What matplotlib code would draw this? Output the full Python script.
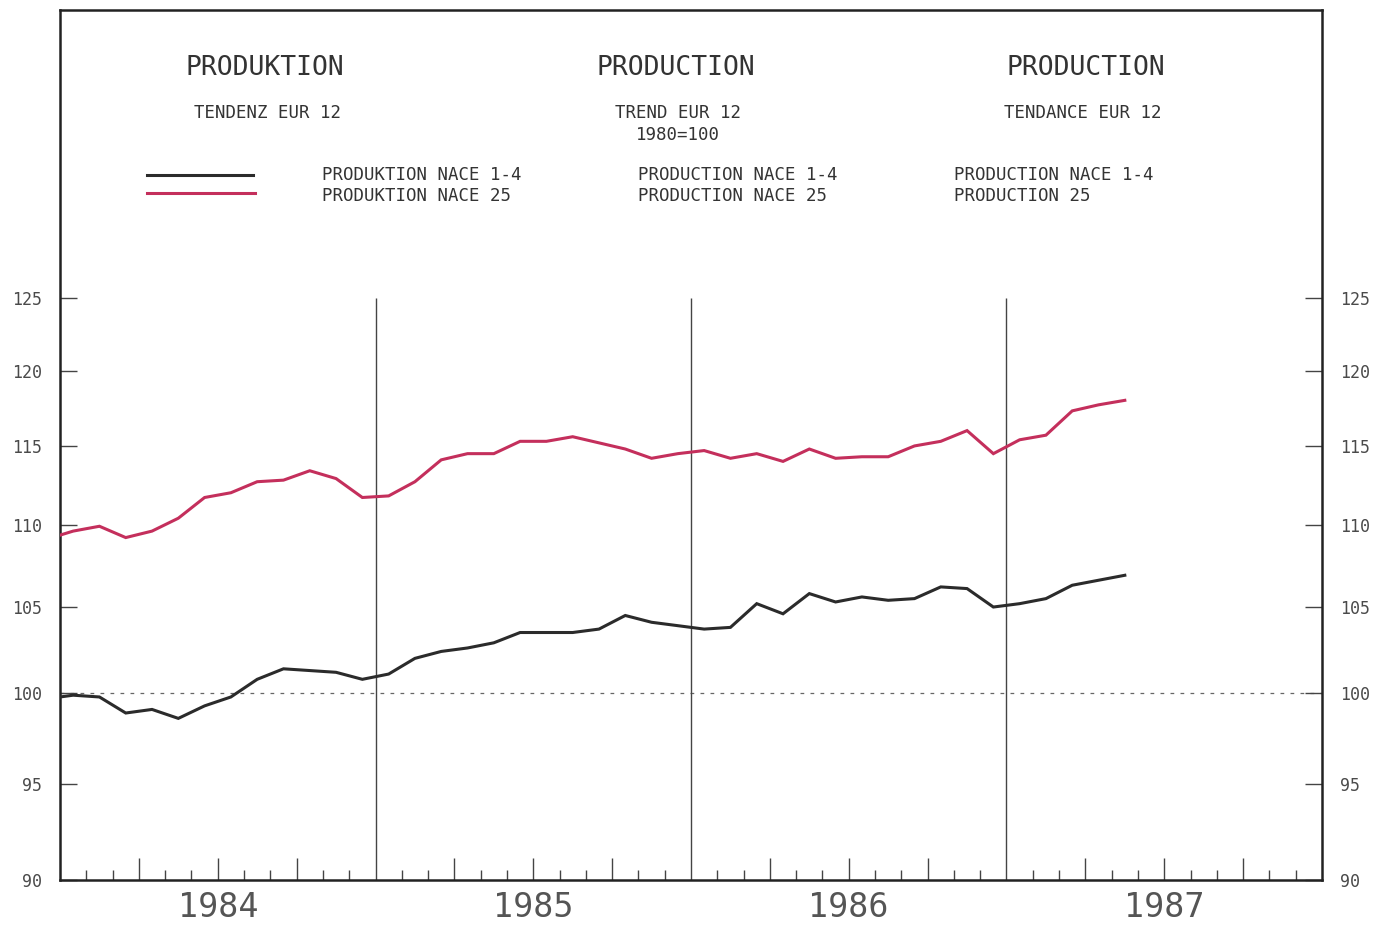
import numpy as np
import matplotlib
matplotlib.use("Agg")
from matplotlib import pyplot as plt
from matplotlib.ticker import FixedLocator, NullLocator, FixedFormatter

# monthly index, 0 = Jan 1984 (first value is Dec 1983, clipped at the axis)
month_index = np.arange(-1, 41)

nace_1_4 = [99.7, 99.9, 99.8, 98.9, 99.1, 98.6, 99.3, 99.8, 100.8, 101.4, 101.3, 101.2,
            100.8, 101.1, 102.0, 102.4, 102.6, 102.9, 103.5, 103.5, 103.5, 103.7, 104.5,
            104.1, 103.9, 103.7, 103.8, 105.2, 104.6, 105.8, 105.3, 105.6, 105.4, 105.5,
            106.2, 106.1, 105.0, 105.2, 105.5, 106.3, 106.6, 106.9]
nace_25 = [109.1, 109.6, 109.9, 109.2, 109.6, 110.4, 111.7, 112.0, 112.7, 112.8, 113.4, 112.9,
           111.7, 111.8, 112.7, 114.1, 114.5, 114.5, 115.3, 115.3, 115.6, 115.2, 114.8,
           114.2, 114.5, 114.7, 114.2, 114.5, 114.0, 114.8, 114.2, 114.3, 114.3, 115.0,
           115.3, 116.0, 114.5, 115.4, 115.7, 117.3, 117.7, 118.0]

years = ["1984", "1985", "1986", "1987"]
y_ticks = [90, 95, 100, 105, 110, 115, 120, 125]

titles = ["PRODUKTION", "PRODUCTION", "PRODUCTION"]
subtitles = ["TENDENZ EUR 12", "TREND EUR 12\n1980=100", "TENDANCE EUR 12"]
legend_1_4 = ["PRODUKTION NACE 1-4", "PRODUCTION NACE 1-4", "PRODUCTION NACE 1-4"]
legend_25 = ["PRODUKTION NACE 25", "PRODUCTION NACE 25", "PRODUCTION 25"]

BLACK = "#2b2b2b"
RED = "#c42f5c"
TXT = "#333333"
FONT = "DejaVu Sans Mono"

W, H = 1391, 925
fig = plt.figure(figsize=(W / 100, H / 100), dpi=100)
ax = fig.add_axes([60 / W, 45 / H, 1262 / W, 870 / H])

x = month_index + 0.5
ax.plot(x, nace_25, color=RED, lw=2.2, solid_joinstyle="miter", zorder=3)
ax.plot(x, nace_1_4, color=BLACK, lw=2.2, solid_joinstyle="miter", zorder=3)

ax.set_yscale("log")
ax.set_xlim(0, 48)
ax.set_ylim(90, 147.1)

# year separators and the 100 reference line
ax.vlines([12, 24, 36], 90, 125, color="#444444", lw=1.0, zorder=2)
ax.axhline(100, color="#666666", lw=0.9, ls=(0, (3, 5)), zorder=1)

# y axis ticks on both sides
ax.yaxis.set_major_locator(FixedLocator(y_ticks))
ax.yaxis.set_major_formatter(FixedFormatter([str(v) for v in y_ticks]))
ax.yaxis.set_minor_locator(NullLocator())
ax.tick_params(axis="y", which="major", direction="in", length=12, width=1.0,
               left=True, right=True, labelleft=True, labelright=True,
               pad=13, labelsize=12, labelcolor="#4a4a4a", color="#444444")

# x axis: monthly minor ticks, quarter major ticks, year labels at mid year
quarters = [m for m in range(3, 48, 3) if m % 12 != 0]
ax.xaxis.set_major_locator(FixedLocator(quarters))
ax.xaxis.set_major_formatter(FixedFormatter(
    [years[m // 12] if m % 12 == 6 else "" for m in quarters]))
ax.xaxis.set_minor_locator(FixedLocator([m for m in range(1, 48) if m % 3 != 0]))
ax.tick_params(axis="x", which="major", direction="in", length=16, width=1.0,
               pad=8, labelsize=24, labelcolor="#555555", color="#444444")
ax.tick_params(axis="x", which="minor", direction="in", length=7, width=1.0,
               color="#444444")
for lab in ax.get_xticklabels() + ax.get_yticklabels():
    lab.set_family(FONT)

for s in ax.spines.values():
    s.set_linewidth(1.8)
    s.set_color("#222222")

# header block
def fx(px):
    return px / W

def fy(py):
    return 1 - py / H

title_x = [265, 676, 1086]
sub_x = [267, 678, 1083]
leg_x = [322, 638, 954]
for i in range(3):
    fig.text(fx(title_x[i]), fy(68), titles[i], ha="center", va="center",
             family=FONT, fontsize=19, color=TXT)
    fig.text(fx(sub_x[i]), fy(104), subtitles[i], ha="center", va="top",
             family=FONT, fontsize=12.5, color=TXT, linespacing=1.3)
    fig.text(fx(leg_x[i]), fy(175), legend_1_4[i], ha="left", va="center",
             family=FONT, fontsize=12.5, color=TXT)
    fig.text(fx(leg_x[i]), fy(196), legend_25[i], ha="left", va="center",
             family=FONT, fontsize=12.5, color=TXT)

fig.add_artist(plt.Line2D([fx(147), fx(253)], [fy(175), fy(175)], color=BLACK, lw=2.2))
fig.add_artist(plt.Line2D([fx(147), fx(255)], [fy(193), fy(193)], color=RED, lw=2.2))

fig.savefig("out.png", dpi=100, facecolor="white")
